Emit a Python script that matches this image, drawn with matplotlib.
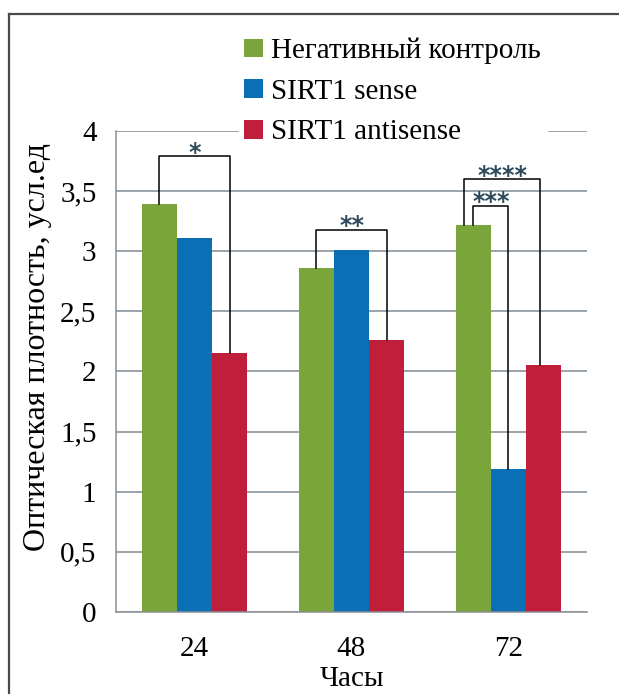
#!/usr/bin/env python3

from matplotlib import pyplot as plt
from matplotlib.lines import Line2D
import numpy as np


FIGSIZE = (6.19, 6.94)
FONT = "Liberation Serif"

hours = ["24", "48", "72"]
series_names = ["Негативный контроль", "SIRT1 sense", "SIRT1 antisense"]
control = [3.39, 2.86, 3.22]
sirt1_sense = [3.11, 3.01, 1.19]
sirt1_antisense = [2.15, 2.26, 2.05]
colors = ["#7aa53b", "#0a6fb5", "#bf1f3a"]

yticks = [0, 0.5, 1, 1.5, 2, 2.5, 3, 3.5, 4]
ytick_labels = ["0", "0,5", "1", "1,5", "2", "2,5", "3", "3,5", "4"]

# significance brackets: group, left bar, right bar, bracket height, label
brackets = [
    (0, 0, 2, 3.79, "*"),
    (1, 0, 2, 3.18, "**"),
    (2, 0, 1, 3.38, "***"),
    (2, 0, 2, 3.60, "****"),
]
# small leg shifts (in bar widths)
leg_shift = {3: (-0.28, -0.09)}


def main():
    plt.rcParams["font.family"] = [FONT, "DejaVu Serif"]
    fig = plt.figure(figsize=FIGSIZE, dpi=100)
    ax = fig.add_axes([0.1874, 0.1182, 0.7609, 0.693])

    values = [control, sirt1_sense, sirt1_antisense]
    x = np.arange(len(hours))
    width = 0.223
    for k, (vals, name, col) in enumerate(zip(values, series_names, colors)):
        ax.bar(x + (k - 1) * width, vals, width, color=col, label=name,
               zorder=2)

    for n, (g, b1, b2, top, label) in enumerate(brackets):
        s1, s2 = leg_shift.get(n, (0, 0))
        x1 = g + (b1 - 1 + s1) * width
        x2 = g + (b2 - 1 + s2) * width
        ax.plot([x1, x1, x2, x2], [values[b1][g], top, top, values[b2][g]],
                color="black", lw=1.1, zorder=3)
        ax.text((x1 + x2) / 2, top - 0.03, label, ha="center",
                va="baseline", fontsize=17, color="#2d4a5a",
                fontweight="bold", family="DejaVu Sans", zorder=4)

    ax.set_xlim(-0.5, 2.5)
    ax.set_ylim(0, 4)
    ax.set_yticks(yticks)
    ax.set_yticklabels(ytick_labels)
    ax.set_xticks(x)
    ax.set_xticklabels(hours)
    ax.tick_params(length=0, labelsize=21, pad=14)
    ax.tick_params(axis="x", pad=17)
    ax.yaxis.grid(True, color="#7f8a93", lw=1.1, zorder=0)
    for side in ["top", "right"]:
        ax.spines[side].set_visible(False)
    for side in ["left", "bottom"]:
        ax.spines[side].set_color("#8a8f94")
        ax.spines[side].set_linewidth(1.1)

    ax.set_xlabel("Часы", fontsize=21, labelpad=3)
    ax.set_ylabel("Оптическая плотность, усл.ед", fontsize=23)
    ax.yaxis.set_label_coords(-0.136, 0.55)

    leg = fig.legend(loc="upper left", bbox_to_anchor=(0.362, 0.975),
                     prop=dict(family=FONT, size=21), frameon=True,
                     framealpha=1, edgecolor="white", fancybox=False,
                     handlelength=0.62, handleheight=0.62, handletextpad=0.3,
                     labelspacing=0.5, borderpad=0.2)
    leg.set_zorder(5)

    # frame of the figure panel (only top and left survive the crop)
    frame = dict(color="#4a4a4a", lw=1.6, transform=fig.transFigure)
    fig.add_artist(Line2D([0.0145, 1.0], [0.98, 0.98], **frame))
    fig.add_artist(Line2D([0.0145, 0.0145], [0.0, 0.98], **frame))

    plt.savefig("out.png", dpi=100)


if __name__ == "__main__":
    main()
